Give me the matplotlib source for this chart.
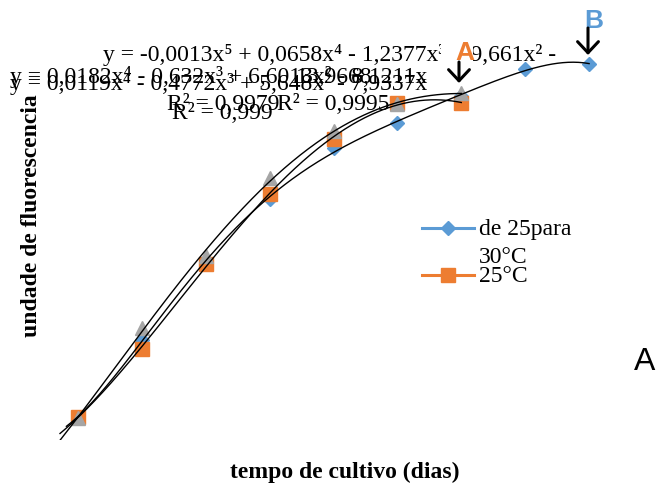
import numpy as np
import matplotlib
matplotlib.use('Agg')
import matplotlib.pyplot as plt
from matplotlib.lines import Line2D
from matplotlib.patches import Rectangle

plt.rcParams['font.family'] = ['Liberation Serif', 'DejaVu Serif']

# days of culture
days_blue = [1, 2, 3, 4, 5, 6, 7, 8, 9]
days_25 = [1, 2, 3, 4, 5, 6, 7]

# fluorescence (arbitrary units)
fluor_blue = [2.3, 10.0, 17.8, 24.1, 29.2, 31.7, 34.4, 37.1, 37.6]
fluor_orange = [2.3, 9.1, 17.6, 24.6, 30.1, 33.7, 33.7]
fluor_gray = [2.2, 11.2, 18.4, 26.2, 30.9, 33.6, 34.7]

legend_labels = ['de 25para', '30°C', '25°C']
eq_blue = 'y = -0,0013x⁵ + 0,0658x⁴ - 1,2377x³ + 9,661x² - '
eq_gray = 'y = 0,0182x⁴ - 0,632x³ + 6,6013x² - 8,1211x'
eq_gray_extra = '13,9668'
eq_orange = 'y = 0,0119x⁴ - 0,4772x³ + 5,648x² - 7,9337x'
r2_texts = ['R² = 0,9979', 'R² = 0,9995', 'R² = 0,999']

c_blue = '#5B9BD5'
c_orange = '#ED7D31'
c_gray = '#A5A5A5'

W, H = 657, 483
fig = plt.figure(figsize=(W/100, H/100), dpi=100)
ax = fig.add_axes([14/W, 1 - 440/H, 639/W, 400/H])
ax.set_xlim(0, 10)
ax.set_ylim(0, 40)
ax.axis('off')

ax.plot(days_blue, fluor_blue, ls='none', marker='D', ms=7, color=c_blue)
ax.plot(days_25, fluor_orange, ls='none', marker='s', ms=10.5, color=c_orange)
ax.plot(days_25, fluor_gray, ls='none', marker='^', ms=10, color=c_gray)

# polynomial trendlines
xb = np.linspace(0.82, 9, 300)
pb = np.polyfit(days_blue, fluor_blue, 5)
ax.plot(xb, np.polyval(pb, xb), color='black', lw=1.0)
xs = np.linspace(0.72, 7, 300)
for vals in (fluor_orange, fluor_gray):
    p = np.polyfit(days_25, vals, 4)
    ax.plot(xs, np.polyval(p, xs), color='black', lw=1.0)


def ftext(x, y, s, **kw):
    # position in pixels from the top left corner
    return fig.text(x/W, 1 - y/H, s, **kw)


fs = 17
ftext(103, 61, eq_blue, fontsize=fs, va='baseline')
ftext(10, 83, eq_gray, fontsize=fs, va='baseline')
ftext(296, 83, eq_gray_extra, fontsize=fs, va='baseline')
ftext(10, 90, eq_orange, fontsize=fs, va='baseline')
ftext(167, 110, r2_texts[0], fontsize=fs, va='baseline')
ftext(277, 110, r2_texts[1], fontsize=fs, va='baseline')
ftext(172, 119, r2_texts[2], fontsize=fs, va='baseline')

# white box of the "A" label hides part of the equation
fig.add_artist(Rectangle((441/W, 1 - 68/H), 32/W, 32/H, fc='white', ec='none',
                         transform=fig.transFigure, zorder=4))
ftext(465, 53, 'A', fontsize=19, fontweight='bold', color=c_orange,
      family='Liberation Sans', ha='center', va='center', zorder=5)
ftext(594, 21, 'B', fontsize=19, fontweight='bold', color=c_blue,
      family='Liberation Sans', ha='center', va='center')
arrow = dict(arrowstyle='->,head_length=0.8,head_width=0.75', lw=2.2, color='black',
             shrinkA=0, shrinkB=0)
fig.add_artist(plt.Annotation('', xy=(459, H - 83), xytext=(459, H - 62),
                              xycoords='figure pixels', arrowprops=arrow, zorder=6))
fig.add_artist(plt.Annotation('', xy=(588, H - 55), xytext=(588, H - 28),
                              xycoords='figure pixels', arrowprops=arrow, zorder=6))

ftext(645, 362, 'A', fontsize=23, family='Liberation Sans', ha='center', va='center')

# legend
fig.add_artist(Line2D([422/W, 474/W], [1 - 228/H, 1 - 228/H], color=c_blue, lw=2.2,
                      transform=fig.transFigure))
fig.add_artist(Line2D([448/W], [1 - 228/H], color=c_blue, marker='D', ms=7,
                      ls='none', transform=fig.transFigure))
fig.add_artist(Line2D([422/W, 474/W], [1 - 275/H, 1 - 275/H], color=c_orange, lw=2.2,
                      transform=fig.transFigure))
fig.add_artist(Line2D([448/W], [1 - 275/H], color=c_orange, marker='s', ms=10,
                      ls='none', transform=fig.transFigure))
ftext(479, 235, legend_labels[0], fontsize=fs, va='baseline')
ftext(479, 263, legend_labels[1], fontsize=fs, va='baseline')
ftext(479, 282, legend_labels[2], fontsize=fs, va='baseline')

# axis titles
ftext(345, 472, 'tempo de cultivo (dias)', fontsize=fs, fontweight='bold',
      ha='center', va='center')
ftext(32, 216, 'undade de fluorescencia', fontsize=fs, fontweight='bold',
      rotation=90, ha='center', va='center')

fig.savefig('out.png', dpi=100)
